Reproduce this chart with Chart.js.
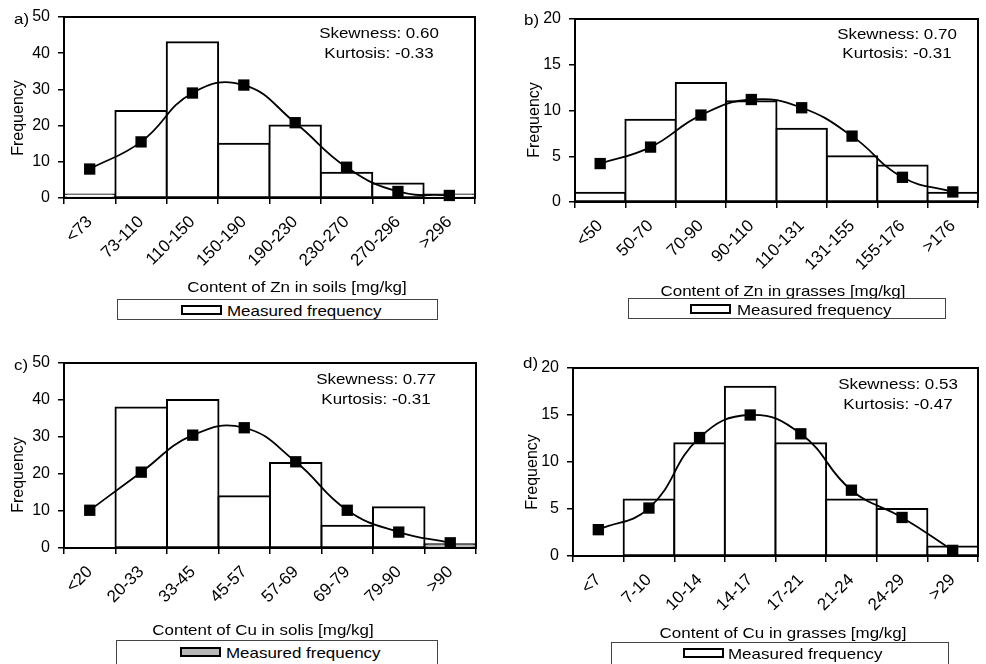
<!DOCTYPE html>
<html>
<head>
<meta charset="utf-8">
<script src="https://cdn.jsdelivr.net/npm/chart.js@4"></script>
<style>
  body { margin: 0; background: #fff; }
  #page { position: relative; width: 986px; height: 664px; overflow: hidden; font-family: "Liberation Sans", Arial, sans-serif; color: #000; }
  canvas { position: absolute; }
  .t { position: absolute; white-space: nowrap; font-size: 15px; line-height: 1; transform: translate(-50%, -50%) scaleX(1.13); }
  .lab { position: absolute; white-space: nowrap; font-size: 15px; line-height: 1; transform: translateY(-50%) scaleX(1.13); transform-origin: left center; }
  .yt { position: absolute; white-space: nowrap; font-size: 16px; line-height: 1; transform: translate(-50%, -50%) rotate(-90deg); }
  .leg { position: absolute; border: 1px solid #444; box-sizing: border-box; background: #fff; }
  .sw { position: absolute; border: 2px solid #000; box-sizing: border-box; background: #fff; }
</style>
</head>
<body>
<div id="page">
  <canvas id="ca" width="490" height="330" style="left:0;top:0"></canvas>
  <canvas id="cb" width="493" height="330" style="left:493px;top:0"></canvas>
  <canvas id="cc" width="490" height="332" style="left:0;top:332px"></canvas>
  <canvas id="cd" width="493" height="332" style="left:493px;top:332px"></canvas>

  <div class="lab" style="left:14px;top:18px">a)</div>
  <div class="lab" style="left:524px;top:19px">b)</div>
  <div class="lab" style="left:14px;top:364px">c)</div>
  <div class="lab" style="left:523px;top:362px">d)</div>

  <div class="yt" style="left:18px;top:118px">Frequency</div>
  <div class="yt" style="left:534px;top:120px">Frequency</div>
  <div class="yt" style="left:18px;top:475px">Frequency</div>
  <div class="yt" style="left:532px;top:472px">Frequency</div>

  <div class="t" style="left:379px;top:32px">Skewness: 0.60</div>
  <div class="t" style="left:379px;top:52px">Kurtosis: -0.33</div>
  <div class="t" style="left:897px;top:33px">Skewness: 0.70</div>
  <div class="t" style="left:897px;top:52px">Kurtosis: -0.31</div>
  <div class="t" style="left:376px;top:378px">Skewness: 0.77</div>
  <div class="t" style="left:376px;top:398px">Kurtosis: -0.31</div>
  <div class="t" style="left:898px;top:383px">Skewness: 0.53</div>
  <div class="t" style="left:898px;top:403px">Kurtosis: -0.47</div>

  <div class="t" style="left:297px;top:286px">Content of Zn in soils [mg/kg]</div>
  <div class="t" style="left:783px;top:290px">Content of Zn in grasses [mg/kg]</div>
  <div class="t" style="left:263px;top:629px">Content of Cu in solis [mg/kg]</div>
  <div class="t" style="left:783px;top:632px">Content of Cu in grasses [mg/kg]</div>

  <div class="leg" style="left:117px;top:299px;width:321px;height:21px"></div>
  <div class="sw" style="left:181px;top:305px;width:41px;height:10px"></div>
  <div class="lab" style="left:227px;top:310px">Measured frequency</div>

  <div class="leg" style="left:628px;top:298px;width:318px;height:21px"></div>
  <div class="sw" style="left:690px;top:304px;width:41px;height:10px"></div>
  <div class="lab" style="left:737px;top:309px">Measured frequency</div>

  <div class="leg" style="left:116px;top:640px;width:322px;height:30px"></div>
  <div class="sw" style="left:180px;top:647px;width:41px;height:10px;background:#b8b8b8"></div>
  <div class="lab" style="left:226px;top:652px">Measured frequency</div>

  <div class="leg" style="left:611px;top:642px;width:338px;height:30px"></div>
  <div class="sw" style="left:683px;top:648px;width:41px;height:10px"></div>
  <div class="lab" style="left:728px;top:653px">Measured frequency</div>
</div>
<script>
// a) Zn in soils
const catsA = ['<73', '73-110', '110-150', '150-190', '190-230', '230-270', '270-296', '>296'];
const barsA = [1, 24, 43, 15, 20, 7, 4, 1];
const lineA = [8, 15.5, 29, 31.2, 20.8, 8.5, 1.8, 0.7];

// b) Zn in grasses
const catsB = ['<50', '50-70', '70-90', '90-110', '110-131', '131-155', '155-176', '>176'];
const barsB = [1, 9, 13, 11, 8, 5, 4, 1];
const lineB = [4.2, 6, 9.5, 11.2, 10.3, 7.2, 2.7, 1.1];

// c) Cu in soils
const catsC = ['<20', '20-33', '33-45', '45-57', '57-69', '69-79', '79-90', '>90'];
const barsC = [0, 38, 40, 14, 23, 6, 11, 1];
const lineC = [10.2, 20.5, 30.5, 32.5, 23.3, 10.2, 4.3, 1.4];

// d) Cu in grasses
const catsD = ['<7', '7-10', '10-14', '14-17', '17-21', '21-24', '24-29', '>29'];
const barsD = [0, 6, 12, 18, 12, 6, 5, 1];
const lineD = [2.8, 5.1, 12.6, 15, 13, 7, 4.1, 0.6];

const FAM = '"Liberation Sans", Arial, sans-serif';

const framePlugin = {
  id: 'frame',
  afterDatasetsDraw(chart) {
    const { ctx, chartArea: a } = chart;
    ctx.save();
    ctx.strokeStyle = '#000';
    ctx.lineWidth = 2;
    ctx.strokeRect(a.left, a.top, a.right - a.left, a.bottom - a.top);
    ctx.restore();
  }
};

function makeChart(id, area, cats, bars, line, yMax, yStep, barFill) {
  const cv = document.getElementById(id);
  const W = cv.width, H = cv.height;
  new Chart(cv.getContext('2d'), {
    type: 'bar',
    data: {
      labels: cats,
      datasets: [
        {
          type: 'line',
          data: line,
          borderColor: '#000',
          borderWidth: 1.8,
          tension: 0.45,
          pointStyle: 'rect',
          pointRadius: 8,
          pointBackgroundColor: '#000',
          pointBorderColor: '#000',
          pointBorderWidth: 0,
          clip: false,
          order: 0
        },
        {
          data: bars,
          backgroundColor: barFill,
          borderColor: '#000',
          borderWidth: 2,
          borderSkipped: false,
          inflateAmount: 1,
          barPercentage: 1,
          categoryPercentage: 1,
          order: 1
        }
      ]
    },
    options: {
      responsive: false,
      devicePixelRatio: 1,
      animation: false,
      layout: { padding: { left: 0, top: area.t, right: W - area.r, bottom: 0 } },
      plugins: { legend: { display: false }, tooltip: { enabled: false } },
      scales: {
        x: {
          border: { display: false },
          grid: { drawOnChartArea: false, offset: true, color: '#000', tickLength: 6, lineWidth: 1.5 },
          ticks: { color: '#000', font: { family: FAM, size: 17 }, minRotation: 45, maxRotation: 45, autoSkip: false, padding: 8 },
          afterFit(s) { s.height = H - area.b; s.paddingLeft = 0; s.paddingRight = 0; }
        },
        y: {
          min: 0,
          max: yMax,
          border: { display: false },
          grid: { drawOnChartArea: false, color: '#000', tickLength: 6, lineWidth: 1.5 },
          ticks: { color: '#000', font: { family: FAM, size: 16 }, stepSize: yStep, padding: 8 },
          afterFit(s) { s.width = area.l; s.paddingTop = 0; s.paddingBottom = 0; }
        }
      }
    },
    plugins: [framePlugin]
  });
}

const white = '#ffffff';
makeChart('ca', { l: 64, t: 17, r: 475, b: 198 }, catsA, barsA, lineA, 50, 10, white);
makeChart('cb', { l: 82, t: 19, r: 492, b: 202 }, catsB, barsB, lineB, 20, 5, white);
makeChart('cc', { l: 64, t: 31, r: 476, b: 216 }, catsC, barsC, lineC, 50, 10,
  barsC.map((v, i) => i === barsC.length - 1 ? '#b8b8b8' : white));
makeChart('cd', { l: 80, t: 36, r: 492, b: 224 }, catsD, barsD, lineD, 20, 5, white);
</script>
</body>
</html>
